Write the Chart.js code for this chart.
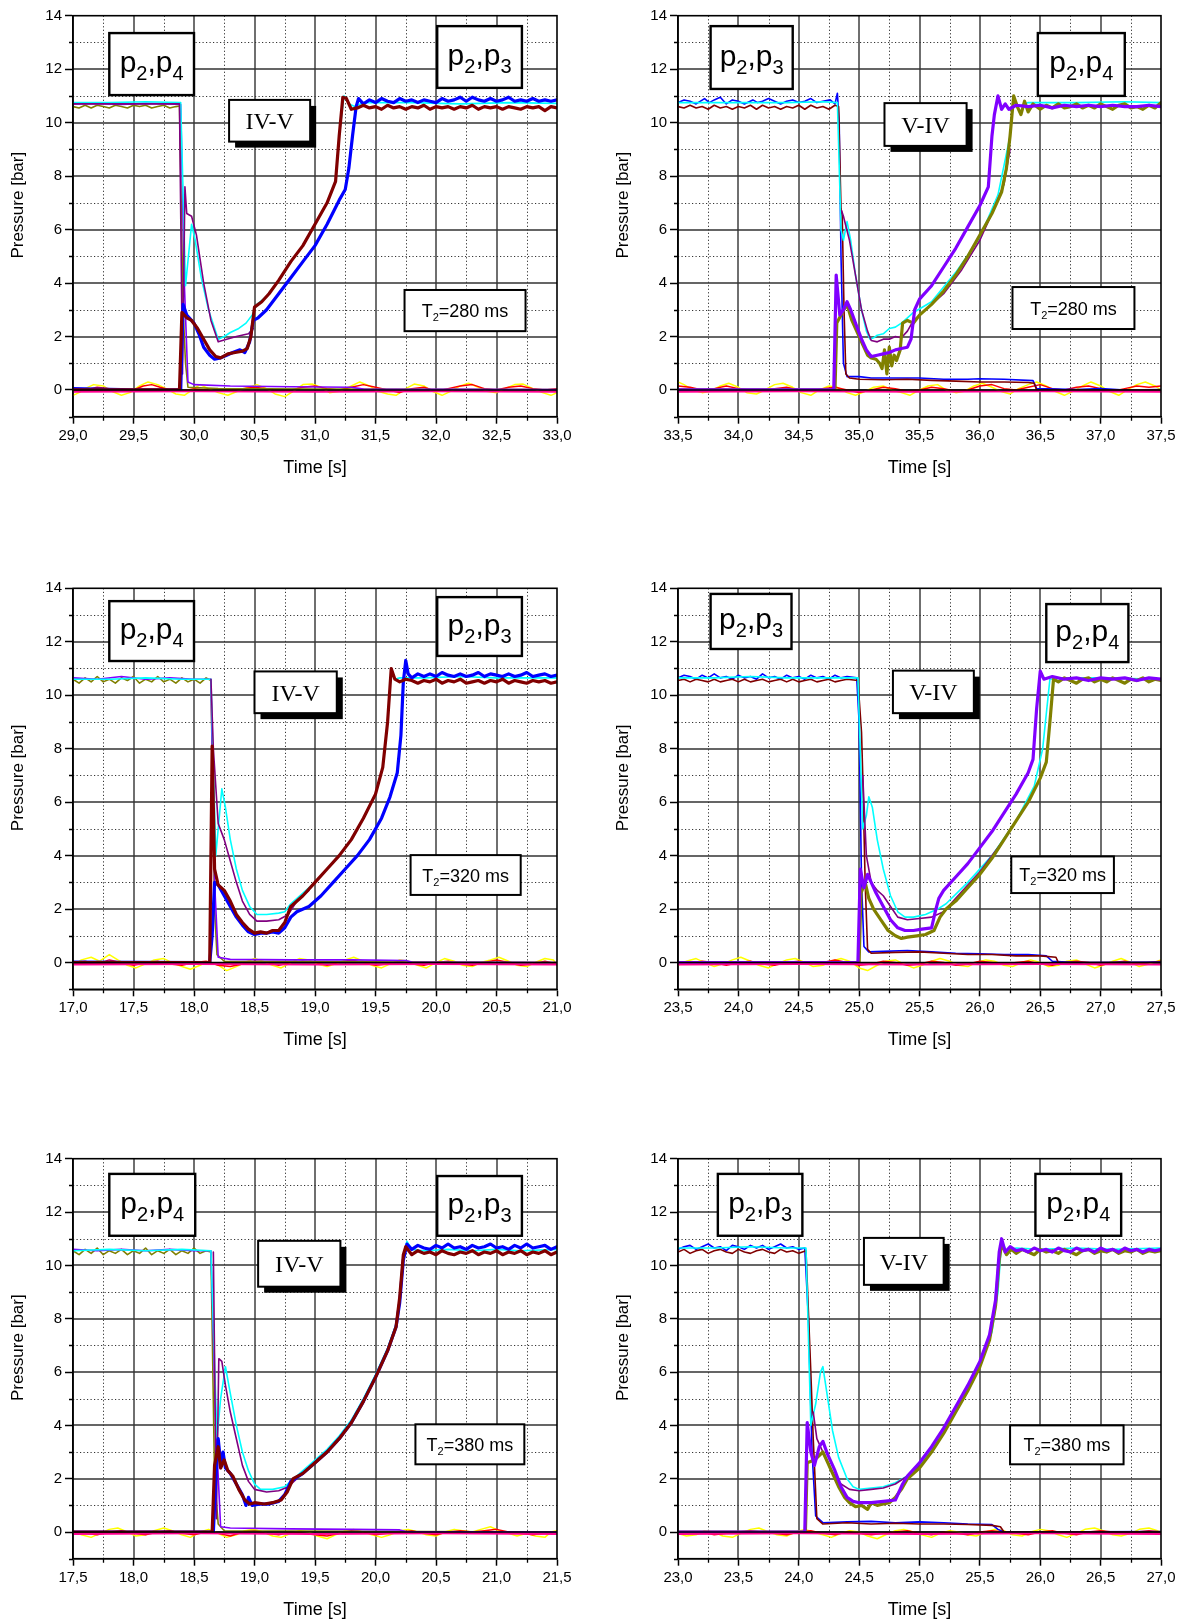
<!DOCTYPE html>
<html><head><meta charset="utf-8">
<script src="https://cdn.jsdelivr.net/npm/chart.js@4.4.0/dist/chart.umd.min.js"></script>
<style>
html,body{margin:0;padding:0;background:#fff;}
#wrap{position:relative;width:1182px;height:1620px;overflow:hidden;background:#fff;}
canvas{position:absolute;}
</style></head><body><div id="wrap"></div>
<script>
// ---------- shared axis data ----------
const Y_RANGE = [-1, 14];
const Y_TICKS = [0, 2, 4, 6, 8, 10, 12, 14];
const P1_XTICKS = [29.0, 29.5, 30.0, 30.5, 31.0, 31.5, 32.0, 32.5, 33.0];
const P2_XTICKS = [33.5, 34.0, 34.5, 35.0, 35.5, 36.0, 36.5, 37.0, 37.5];
const P3_XTICKS = [17.0, 17.5, 18.0, 18.5, 19.0, 19.5, 20.0, 20.5, 21.0];
const P4_XTICKS = [23.5, 24.0, 24.5, 25.0, 25.5, 26.0, 26.5, 27.0, 27.5];
const P5_XTICKS = [17.5, 18.0, 18.5, 19.0, 19.5, 20.0, 20.5, 21.0, 21.5];
const P6_XTICKS = [23.0, 23.5, 24.0, 24.5, 25.0, 25.5, 26.0, 26.5, 27.0];
const X_TITLE = 'Time [s]';
const Y_TITLE = 'Pressure [bar]';

// ---------- panel 1 (IV-V, T2=280 ms) : [x,y, x,y, ...] ----------
const P1_YELLOW = [29.0,-0.2, 29.05,-0.1, 29.1,0.05, 29.17,0.2, 29.25,0.15, 29.32,-0.05, 29.4,-0.2, 29.47,-0.1, 29.55,0.15, 29.62,0.3, 29.7,0.2, 29.77,0.05, 29.85,-0.15, 29.92,-0.2, 30.0,0.05, 30.05,0.2, 30.12,0.05, 30.2,-0.1, 30.28,-0.2, 30.36,-0.05, 30.45,0.1, 30.52,0.2, 30.6,0.05, 30.67,-0.15, 30.75,-0.25, 30.82,-0.05, 30.9,0.2, 30.98,0.22, 31.05,0.1, 31.12,-0.1, 31.2,-0.05, 31.3,0.15, 31.37,0.3, 31.45,0.15, 31.52,-0.05, 31.6,-0.15, 31.67,-0.2, 31.75,0.05, 31.82,0.22, 31.9,0.15, 31.97,-0.05, 32.05,-0.2, 32.12,-0.05, 32.2,0.15, 32.27,0.25, 32.35,0.1, 32.42,-0.05, 32.5,-0.1, 32.57,0.05, 32.65,0.2, 32.72,0.22, 32.8,0.05, 32.88,-0.1, 32.95,-0.2, 33.0,-0.1];
const P1_RED = [29.0,0.05, 29.1,0.0, 29.2,0.1, 29.3,0.05, 29.4,-0.05, 29.5,0.0, 29.58,0.15, 29.65,0.2, 29.72,0.1, 29.8,0.0, 29.9,-0.05, 30.0,0.05, 30.1,0.0, 30.2,-0.05, 30.3,0.0, 30.4,0.05, 30.5,0.1, 30.6,0.05, 30.7,-0.05, 30.8,0.0, 30.9,0.1, 31.0,0.15, 31.1,0.05, 31.2,0.0, 31.3,0.1, 31.4,0.2, 31.5,0.1, 31.6,0.0, 31.7,-0.1, 31.8,0.05, 31.9,0.1, 32.0,-0.05, 32.1,0.05, 32.2,0.15, 32.3,0.2, 32.4,0.05, 32.5,0.0, 32.6,0.1, 32.7,0.15, 32.8,0.05, 32.9,0.0, 33.0,0.05];
const P1_OLIVE = [29.0,10.6, 29.05,10.55, 29.1,10.65, 29.15,10.55, 29.2,10.65, 29.25,10.6, 29.3,10.55, 29.35,10.65, 29.4,10.6, 29.45,10.55, 29.5,10.65, 29.55,10.6, 29.6,10.65, 29.65,10.55, 29.7,10.6, 29.75,10.65, 29.8,10.55, 29.85,10.6, 29.88,10.62, 29.91,3.0, 29.93,1.0, 29.95,0.1, 30.2,0.05, 31.0,0.03, 33.0,0.02];
const P1_VIOLET = [29.0,10.7, 29.2,10.72, 29.4,10.68, 29.6,10.72, 29.8,10.7, 29.89,10.68, 29.92,4.0, 29.95,0.3, 30.0,0.2, 30.3,0.15, 30.8,0.12, 31.3,0.1, 31.4,0.03, 33.0,0.02];
const P1_CYAN = [29.0,10.75, 29.3,10.75, 29.6,10.78, 29.89,10.75, 29.93,3.9, 29.98,6.2, 30.01,5.6, 30.06,4.2, 30.12,3.0, 30.2,1.9, 30.25,2.0, 30.3,2.15, 30.37,2.3, 30.43,2.5, 30.48,2.8, 30.52,3.2, 30.6,3.5, 30.7,4.1, 30.8,4.8, 30.9,5.4, 31.0,6.2, 31.1,7.0, 31.17,7.8, 31.2,9.5, 31.24,11.0, 31.28,10.7, 31.33,10.6, 31.4,10.75, 31.8,10.75, 32.2,10.7, 32.6,10.75, 33.0,10.72];
const P1_PURPLE = [29.0,10.7, 29.4,10.7, 29.88,10.7, 29.905,0.6, 29.925,7.6, 29.94,6.6, 29.98,6.5, 30.02,5.8, 30.08,4.0, 30.14,2.6, 30.2,1.8, 30.27,1.9, 30.35,2.0, 30.45,2.1, 30.49,2.3];
const P1_BLUE = [29.0,0.05, 29.5,0.0, 29.89,0.0, 29.91,3.2, 29.94,2.8, 30.0,2.5, 30.04,2.1, 30.08,1.6, 30.13,1.3, 30.17,1.15, 30.22,1.2, 30.27,1.3, 30.32,1.4, 30.38,1.5, 30.42,1.4, 30.46,1.8, 30.49,2.6, 30.53,2.7, 30.6,3.0, 30.7,3.6, 30.8,4.2, 30.9,4.8, 31.0,5.4, 31.1,6.2, 31.2,7.1, 31.25,7.5, 31.28,8.3, 31.31,9.5, 31.34,10.6, 31.36,10.9, 31.4,10.7, 31.45,10.85, 31.5,10.75, 31.55,10.9, 31.6,10.8, 31.65,10.75, 31.7,10.9, 31.75,10.8, 31.8,10.85, 31.85,10.75, 31.9,10.85, 31.95,10.8, 32.0,10.75, 32.05,10.9, 32.1,10.8, 32.15,10.85, 32.2,10.95, 32.25,10.8, 32.3,10.95, 32.35,10.85, 32.4,10.8, 32.45,10.9, 32.5,10.8, 32.55,10.85, 32.6,10.95, 32.65,10.8, 32.7,10.85, 32.75,10.8, 32.8,10.9, 32.85,10.8, 32.9,10.85, 32.95,10.8, 33.0,10.85];
const P1_MAROON = [29.0,0.0, 29.88,0.0, 29.9,2.9, 29.94,2.7, 29.98,2.6, 30.03,2.3, 30.08,1.9, 30.13,1.5, 30.18,1.25, 30.22,1.2, 30.28,1.35, 30.34,1.4, 30.4,1.45, 30.44,1.55, 30.47,2.0, 30.5,3.1, 30.56,3.3, 30.62,3.6, 30.7,4.1, 30.8,4.8, 30.9,5.4, 31.0,6.2, 31.1,7.0, 31.17,7.8, 31.2,9.5, 31.23,10.95, 31.26,10.9, 31.3,10.5, 31.35,10.55, 31.4,10.65, 31.45,10.55, 31.5,10.6, 31.55,10.5, 31.6,10.65, 31.65,10.55, 31.7,10.6, 31.75,10.5, 31.8,10.6, 31.85,10.55, 31.9,10.65, 31.95,10.5, 32.0,10.6, 32.05,10.55, 32.1,10.6, 32.15,10.5, 32.2,10.6, 32.25,10.55, 32.3,10.65, 32.35,10.5, 32.4,10.6, 32.45,10.55, 32.5,10.6, 32.55,10.5, 32.6,10.6, 32.65,10.55, 32.7,10.5, 32.75,10.6, 32.8,10.55, 32.85,10.6, 32.9,10.45, 32.95,10.6, 33.0,10.55];
const P1_MAGENTA = [29.0,-0.07, 30.0,-0.05, 31.0,-0.07, 32.0,-0.05, 33.0,-0.07];
const P1_BLACK = [29.0,0.0, 33.0,0.0];

// ---------- panel 2 (V-IV, T2=280 ms) ----------
const P2_YELLOW = [33.5,0.3, 33.55,0.2, 33.62,0.0, 33.7,-0.1, 33.77,-0.05, 33.85,0.15, 33.92,0.25, 34.0,0.1, 34.07,-0.1, 34.15,-0.15, 34.22,0.0, 34.3,0.2, 34.37,0.25, 34.45,0.1, 34.52,-0.1, 34.6,-0.2, 34.67,0.0, 34.75,0.15, 34.82,0.1, 34.9,-0.1, 34.97,-0.2, 35.05,-0.05, 35.12,0.1, 35.2,0.15, 35.27,0.0, 35.35,-0.1, 35.42,-0.2, 35.5,0.0, 35.57,0.15, 35.65,0.2, 35.72,0.0, 35.8,-0.1, 35.87,-0.05, 35.95,0.15, 36.02,0.25, 36.1,0.1, 36.17,-0.05, 36.25,-0.15, 36.32,0.05, 36.4,0.2, 36.47,0.3, 36.55,0.15, 36.62,-0.05, 36.7,-0.2, 36.77,-0.05, 36.85,0.15, 36.92,0.3, 37.0,0.15, 37.07,-0.05, 37.15,-0.2, 37.22,0.0, 37.3,0.2, 37.37,0.3, 37.45,0.15, 37.5,0.0];
const P2_RED = [33.5,0.15, 33.6,0.1, 33.7,0.0, 33.8,0.05, 33.9,0.15, 34.0,0.05, 34.1,0.0, 34.2,-0.05, 34.3,0.05, 34.4,0.1, 34.5,0.0, 34.6,-0.05, 34.7,0.05, 34.8,0.1, 34.9,0.0, 35.0,-0.1, 35.1,0.0, 35.2,0.1, 35.3,0.05, 35.4,-0.05, 35.5,0.0, 35.6,0.1, 35.7,0.05, 35.8,-0.05, 35.9,0.0, 36.0,0.15, 36.1,0.2, 36.2,0.05, 36.3,0.0, 36.4,0.1, 36.5,0.2, 36.6,0.05, 36.7,0.0, 36.8,0.1, 36.9,0.15, 37.0,0.05, 37.1,-0.05, 37.2,0.05, 37.3,0.15, 37.4,0.1, 37.5,0.15];
const P2_BLUE = [33.5,10.75, 33.55,10.85, 33.6,10.8, 33.65,10.7, 33.72,10.9, 33.76,10.75, 33.8,10.85, 33.85,10.95, 33.9,10.7, 33.95,10.85, 34.0,10.8, 34.05,10.7, 34.12,10.85, 34.16,10.75, 34.2,10.8, 34.25,10.9, 34.3,10.8, 34.35,10.7, 34.4,10.8, 34.45,10.85, 34.5,10.75, 34.55,10.8, 34.6,10.9, 34.65,10.75, 34.7,10.8, 34.76,10.85, 34.8,10.7, 34.82,11.1, 34.835,10.0, 34.85,5.0, 34.87,1.0, 34.9,0.5, 35.0,0.5, 35.1,0.45, 35.3,0.45, 35.5,0.45, 35.7,0.4, 35.9,0.4, 36.0,0.42, 36.2,0.4, 36.44,0.35, 36.47,0.05, 36.8,0.02, 37.0,0.05, 37.2,0.0, 37.5,0.02];
const P2_MAROON = [33.5,10.6, 33.55,10.55, 33.6,10.65, 33.65,10.55, 33.7,10.6, 33.75,10.5, 33.8,10.65, 33.85,10.55, 33.9,10.6, 33.95,10.5, 34.0,10.6, 34.05,10.55, 34.1,10.65, 34.15,10.5, 34.2,10.65, 34.25,10.55, 34.3,10.6, 34.35,10.5, 34.4,10.6, 34.45,10.55, 34.5,10.65, 34.55,10.5, 34.6,10.65, 34.65,10.55, 34.7,10.6, 34.75,10.5, 34.8,10.65, 34.83,10.6, 34.85,6.8, 34.86,6.5, 34.875,3.0, 34.89,0.6, 34.92,0.45, 35.0,0.4, 35.2,0.38, 35.4,0.4, 35.6,0.36, 35.8,0.33, 36.0,0.3, 36.2,0.3, 36.4,0.28, 36.45,0.25, 36.47,0.0, 37.5,0.0];
const P2_CYAN = [33.5,10.75, 33.8,10.75, 34.1,10.75, 34.4,10.75, 34.7,10.78, 34.82,10.75, 34.85,6.0, 34.87,5.6, 34.9,6.3, 34.93,5.6, 34.97,4.3, 35.02,3.0, 35.06,2.2, 35.09,1.9, 35.12,1.95, 35.15,2.05, 35.2,2.1, 35.25,2.3, 35.3,2.35, 35.35,2.5, 35.4,2.7, 35.45,2.9, 35.6,3.3, 35.8,4.4, 36.0,5.7, 36.15,7.3, 36.25,9.5, 36.28,10.9, 36.32,10.6, 36.4,10.75, 36.8,10.75, 37.2,10.78, 37.5,10.75];
const P2_PURPLE = [34.855,6.7, 34.87,6.5, 34.92,5.6, 34.97,4.3, 35.02,3.0, 35.07,2.2, 35.1,1.85, 35.15,1.8, 35.2,1.9, 35.25,1.9, 35.3,2.0, 35.35,1.95, 35.4,2.2, 35.45,2.6, 35.55,3.0, 35.7,3.6, 35.85,4.5, 36.0,5.6, 36.1,6.6, 36.2,7.7, 36.25,9.0];
const P2_OLIVE = [33.5,0.0, 34.8,0.0, 34.815,2.5, 34.86,2.9, 34.9,3.2, 34.94,2.6, 34.98,2.2, 35.03,1.7, 35.07,1.3, 35.1,1.2, 35.14,1.15, 35.17,1.0, 35.19,0.8, 35.21,1.5, 35.23,0.6, 35.25,1.6, 35.27,0.9, 35.29,1.3, 35.31,1.1, 35.34,1.5, 35.36,2.5, 35.4,2.6, 35.45,2.5, 35.5,2.8, 35.6,3.2, 35.7,3.7, 35.8,4.3, 35.9,5.0, 36.0,5.8, 36.1,6.6, 36.18,7.4, 36.22,8.3, 36.25,9.5, 36.28,11.0, 36.31,10.6, 36.34,10.3, 36.37,10.8, 36.4,10.4, 36.44,10.7, 36.5,10.5, 36.55,10.65, 36.6,10.55, 36.65,10.7, 36.7,10.55, 36.75,10.6, 36.8,10.7, 36.85,10.55, 36.9,10.65, 36.95,10.55, 37.0,10.7, 37.05,10.6, 37.1,10.5, 37.15,10.65, 37.2,10.7, 37.25,10.55, 37.3,10.6, 37.35,10.5, 37.4,10.65, 37.45,10.55, 37.5,10.75];
const P2_VIOLET = [33.5,0.0, 34.79,0.0, 34.81,4.3, 34.84,2.8, 34.87,3.0, 34.9,3.3, 34.93,3.0, 34.97,2.5, 35.02,1.9, 35.06,1.5, 35.1,1.25, 35.15,1.3, 35.2,1.35, 35.25,1.4, 35.3,1.5, 35.35,1.55, 35.4,1.6, 35.43,1.9, 35.46,3.0, 35.5,3.4, 35.6,3.9, 35.7,4.6, 35.8,5.3, 35.9,6.1, 36.0,6.9, 36.07,7.6, 36.1,9.5, 36.12,10.3, 36.15,11.0, 36.18,10.5, 36.21,10.7, 36.24,10.5, 36.3,10.65, 36.4,10.6, 36.5,10.65, 36.6,10.55, 36.7,10.65, 36.8,10.6, 36.9,10.65, 37.0,10.6, 37.1,10.65, 37.2,10.6, 37.3,10.6, 37.4,10.65, 37.5,10.6];
const P2_MAGENTA = [33.5,-0.07, 34.5,-0.05, 35.5,-0.07, 36.5,-0.05, 37.5,-0.07];
const P2_BLACK = [33.5,0.0, 37.5,0.0];

// ---------- panel 3 (IV-V, T2=320 ms) ----------
const P3_YELLOW = [17.0,-0.1, 17.07,0.1, 17.15,0.2, 17.22,0.05, 17.3,0.3, 17.37,0.1, 17.45,-0.1, 17.52,-0.2, 17.6,-0.05, 17.67,0.1, 17.75,0.15, 17.82,0.0, 17.9,-0.15, 17.97,-0.25, 18.05,-0.1, 18.12,0.05, 18.2,-0.1, 18.27,-0.3, 18.35,-0.15, 18.42,0.0, 18.5,0.15, 18.57,0.05, 18.65,-0.1, 18.72,-0.2, 18.8,0.0, 18.87,0.15, 18.95,0.1, 19.02,-0.05, 19.1,-0.15, 19.17,-0.05, 19.25,0.1, 19.32,0.2, 19.4,0.05, 19.47,-0.1, 19.55,-0.2, 19.62,-0.05, 19.7,0.1, 19.77,0.05, 19.85,-0.1, 19.92,-0.2, 20.0,0.0, 20.07,0.15, 20.15,0.05, 20.22,-0.1, 20.3,-0.15, 20.37,0.0, 20.45,0.1, 20.52,0.2, 20.6,0.05, 20.67,-0.1, 20.75,-0.15, 20.82,0.0, 20.9,0.15, 20.97,0.1, 21.0,-0.1];
const P3_RED = [17.0,0.0, 17.1,0.05, 17.2,-0.05, 17.3,0.1, 17.4,0.0, 17.5,-0.1, 17.6,0.0, 17.7,0.05, 17.8,-0.05, 17.9,-0.1, 18.0,0.0, 18.1,0.05, 18.2,-0.1, 18.3,-0.15, 18.4,-0.05, 18.5,0.05, 18.6,0.0, 18.7,-0.1, 18.8,0.0, 18.9,0.05, 19.0,0.0, 19.1,-0.1, 19.2,0.0, 19.3,0.1, 19.4,0.0, 19.5,-0.1, 19.6,-0.05, 19.7,0.05, 19.8,-0.05, 19.9,-0.1, 20.0,0.0, 20.1,0.05, 20.2,-0.05, 20.3,-0.1, 20.4,0.0, 20.5,0.1, 20.6,0.0, 20.7,-0.1, 20.8,-0.05, 20.9,0.05, 21.0,-0.05];
const P3_OLIVE = [17.0,10.6, 17.05,10.45, 17.1,10.65, 17.15,10.5, 17.2,10.7, 17.25,10.5, 17.3,10.6, 17.35,10.45, 17.4,10.65, 17.45,10.55, 17.5,10.7, 17.55,10.45, 17.6,10.6, 17.65,10.5, 17.7,10.7, 17.75,10.5, 17.8,10.6, 17.85,10.45, 17.9,10.65, 17.95,10.5, 18.0,10.6, 18.05,10.45, 18.1,10.65, 18.14,10.55, 18.17,2.0, 18.19,0.3, 18.25,0.05, 21.0,0.0];
const P3_VIOLET = [17.0,10.65, 17.2,10.6, 17.4,10.7, 17.6,10.6, 17.8,10.65, 18.0,10.6, 18.14,10.6, 18.17,3.0, 18.2,0.2, 18.3,0.12, 18.8,0.1, 19.3,0.1, 19.75,0.08, 19.8,0.02, 21.0,0.0];
const P3_CYAN = [17.0,10.6, 17.3,10.6, 17.6,10.65, 17.9,10.6, 18.14,10.6, 18.18,4.0, 18.21,5.5, 18.23,6.5, 18.26,5.8, 18.3,4.6, 18.35,3.5, 18.4,2.7, 18.46,2.1, 18.52,1.8, 18.6,1.8, 18.7,1.85, 18.75,1.9, 18.8,2.2, 18.9,2.6, 19.0,3.0, 19.1,3.5, 19.2,4.0, 19.3,4.6, 19.4,5.4, 19.5,6.3, 19.56,7.3, 19.6,9.0, 19.63,10.9, 19.66,10.6, 19.7,10.65, 19.9,10.65, 20.2,10.7, 20.5,10.65, 20.8,10.65, 21.0,10.65];
const P3_PURPLE = [18.14,10.6, 18.16,8.0, 18.2,5.2, 18.25,4.6, 18.3,3.8, 18.35,3.0, 18.4,2.3, 18.46,1.8, 18.52,1.55, 18.6,1.55, 18.7,1.6, 18.78,1.8, 18.85,2.3, 18.95,2.7];
const P3_BLUE = [17.0,0.02, 18.13,0.0, 18.15,1.0, 18.17,3.0, 18.2,2.9, 18.25,2.5, 18.3,2.1, 18.35,1.7, 18.4,1.4, 18.45,1.15, 18.5,1.05, 18.55,1.1, 18.6,1.1, 18.65,1.15, 18.7,1.1, 18.75,1.3, 18.8,1.7, 18.85,1.9, 18.95,2.1, 19.05,2.5, 19.15,3.0, 19.25,3.5, 19.35,4.0, 19.45,4.6, 19.55,5.4, 19.62,6.2, 19.68,7.1, 19.71,8.5, 19.73,10.5, 19.75,11.3, 19.77,10.8, 19.8,10.65, 19.85,10.8, 19.9,10.7, 19.95,10.8, 20.0,10.7, 20.05,10.85, 20.1,10.75, 20.15,10.7, 20.2,10.8, 20.25,10.7, 20.3,10.75, 20.35,10.85, 20.4,10.7, 20.45,10.8, 20.5,10.75, 20.55,10.7, 20.6,10.8, 20.65,10.7, 20.7,10.75, 20.75,10.85, 20.8,10.7, 20.85,10.75, 20.9,10.8, 20.95,10.7, 21.0,10.75];
const P3_MAROON = [17.0,0.0, 18.13,0.0, 18.15,8.1, 18.17,3.5, 18.2,2.9, 18.25,2.7, 18.3,2.3, 18.35,1.8, 18.4,1.5, 18.45,1.25, 18.5,1.1, 18.55,1.15, 18.6,1.1, 18.65,1.2, 18.7,1.2, 18.75,1.5, 18.8,2.1, 18.9,2.5, 19.0,3.0, 19.1,3.5, 19.2,4.0, 19.3,4.6, 19.4,5.4, 19.5,6.3, 19.56,7.3, 19.6,9.0, 19.63,11.0, 19.66,10.6, 19.7,10.5, 19.75,10.6, 19.8,10.55, 19.85,10.45, 19.9,10.55, 19.95,10.5, 20.0,10.6, 20.05,10.45, 20.1,10.55, 20.15,10.5, 20.2,10.6, 20.25,10.45, 20.3,10.5, 20.35,10.55, 20.4,10.45, 20.45,10.55, 20.5,10.5, 20.55,10.6, 20.6,10.45, 20.65,10.55, 20.7,10.5, 20.75,10.45, 20.8,10.55, 20.85,10.5, 20.9,10.55, 20.95,10.45, 21.0,10.5];
const P3_MAGENTA = [17.0,-0.07, 18.0,-0.05, 19.0,-0.07, 20.0,-0.05, 21.0,-0.07];
const P3_BLACK = [17.0,0.0, 21.0,0.0];

// ---------- panel 4 (V-IV, T2=320 ms) ----------
const P4_YELLOW = [23.5,-0.1, 23.57,0.05, 23.65,0.15, 23.72,0.0, 23.8,-0.15, 23.87,-0.05, 23.95,0.1, 24.02,0.2, 24.1,0.05, 24.17,-0.1, 24.25,-0.2, 24.32,-0.05, 24.4,0.1, 24.47,0.15, 24.55,0.0, 24.62,-0.15, 24.7,-0.1, 24.77,0.05, 24.85,0.15, 24.92,0.05, 25.0,-0.2, 25.07,-0.3, 25.15,-0.1, 25.22,0.05, 25.3,0.1, 25.37,-0.05, 25.45,-0.2, 25.52,-0.1, 25.6,0.05, 25.67,0.15, 25.75,0.05, 25.82,-0.1, 25.9,-0.15, 25.97,0.0, 26.05,0.1, 26.12,0.05, 26.2,-0.1, 26.27,-0.15, 26.35,0.0, 26.42,0.1, 26.5,0.0, 26.57,-0.15, 26.65,-0.1, 26.72,0.05, 26.8,0.1, 26.87,-0.05, 26.95,-0.2, 27.02,-0.1, 27.1,0.05, 27.17,0.15, 27.25,0.0, 27.32,-0.15, 27.4,-0.05, 27.5,0.1];
const P4_RED = [23.5,0.0, 23.6,-0.05, 23.7,0.05, 23.8,0.0, 23.9,-0.1, 24.0,0.0, 24.1,0.05, 24.2,-0.05, 24.3,-0.1, 24.4,0.0, 24.5,0.05, 24.6,-0.05, 24.7,0.0, 24.8,0.1, 24.9,0.0, 25.0,-0.1, 25.1,-0.05, 25.2,0.05, 25.3,0.0, 25.4,-0.1, 25.5,-0.05, 25.6,0.05, 25.7,0.0, 25.8,-0.1, 25.9,-0.05, 26.0,0.05, 26.1,0.0, 26.2,-0.05, 26.3,0.0, 26.4,0.05, 26.5,-0.05, 26.6,-0.1, 26.7,0.0, 26.8,0.05, 26.9,0.0, 27.0,-0.1, 27.1,0.0, 27.2,0.05, 27.3,-0.05, 27.4,0.0, 27.5,0.05];
const P4_BLUE = [23.5,10.65, 23.55,10.75, 23.6,10.7, 23.65,10.6, 23.7,10.75, 23.75,10.65, 23.8,10.8, 23.85,10.65, 23.9,10.7, 23.95,10.6, 24.0,10.75, 24.05,10.65, 24.1,10.7, 24.15,10.6, 24.2,10.8, 24.25,10.65, 24.3,10.7, 24.35,10.6, 24.4,10.75, 24.45,10.65, 24.5,10.7, 24.55,10.6, 24.6,10.75, 24.65,10.65, 24.7,10.7, 24.75,10.6, 24.8,10.75, 24.85,10.65, 24.9,10.7, 24.98,10.65, 25.0,9.0, 25.02,3.0, 25.04,0.6, 25.08,0.4, 25.2,0.42, 25.4,0.45, 25.6,0.4, 25.8,0.35, 26.0,0.33, 26.2,0.3, 26.4,0.3, 26.55,0.25, 26.6,0.05, 26.8,0.0, 27.5,0.02];
const P4_MAROON = [23.5,10.55, 23.55,10.6, 23.6,10.5, 23.65,10.6, 23.7,10.55, 23.75,10.5, 23.8,10.6, 23.85,10.5, 23.9,10.55, 23.95,10.6, 24.0,10.5, 24.05,10.6, 24.1,10.5, 24.15,10.55, 24.2,10.6, 24.25,10.5, 24.3,10.55, 24.35,10.6, 24.4,10.5, 24.45,10.6, 24.5,10.5, 24.55,10.55, 24.6,10.6, 24.65,10.5, 24.7,10.55, 24.75,10.6, 24.8,10.5, 24.85,10.55, 24.9,10.6, 24.99,10.55, 25.02,8.6, 25.03,7.0, 25.05,3.0, 25.07,0.5, 25.1,0.35, 25.3,0.38, 25.5,0.4, 25.7,0.35, 25.9,0.3, 26.1,0.3, 26.3,0.25, 26.5,0.25, 26.63,0.2, 26.65,0.0, 27.5,0.0];
const P4_CYAN = [23.5,10.65, 23.8,10.65, 24.1,10.7, 24.4,10.65, 24.7,10.65, 24.99,10.65, 25.03,5.0, 25.06,5.5, 25.08,6.2, 25.11,5.8, 25.15,4.6, 25.2,3.5, 25.26,2.5, 25.32,1.9, 25.38,1.7, 25.45,1.7, 25.55,1.8, 25.65,2.0, 25.72,2.2, 25.9,3.0, 26.1,4.0, 26.3,5.3, 26.45,6.6, 26.52,8.0, 26.58,10.6, 26.7,10.65, 27.0,10.65, 27.5,10.6];
const P4_PURPLE = [25.03,7.0, 25.06,4.0, 25.1,3.0, 25.15,2.7, 25.2,2.5, 25.26,2.1, 25.32,1.7, 25.4,1.6, 25.5,1.65, 25.6,1.7, 25.7,1.9, 25.8,2.4, 26.0,3.4, 26.2,4.6, 26.4,6.0, 26.5,6.9];
const P4_OLIVE = [23.5,0.0, 25.0,0.0, 25.015,2.6, 25.05,3.0, 25.08,2.4, 25.12,2.0, 25.18,1.6, 25.24,1.2, 25.3,1.0, 25.35,0.9, 25.4,0.95, 25.48,1.0, 25.55,1.05, 25.62,1.2, 25.67,1.7, 25.72,2.0, 25.8,2.3, 25.9,2.8, 26.0,3.3, 26.1,3.9, 26.2,4.6, 26.3,5.3, 26.4,6.0, 26.5,6.9, 26.55,7.5, 26.58,9.0, 26.61,10.6, 26.65,10.5, 26.7,10.65, 26.75,10.55, 26.8,10.45, 26.85,10.6, 26.9,10.65, 26.95,10.5, 27.0,10.6, 27.05,10.5, 27.1,10.65, 27.15,10.55, 27.2,10.45, 27.25,10.6, 27.3,10.55, 27.35,10.65, 27.4,10.5, 27.45,10.6, 27.5,10.55];
const P4_VIOLET = [23.5,0.0, 24.99,0.0, 25.01,3.5, 25.04,2.8, 25.07,3.3, 25.1,3.0, 25.14,2.6, 25.2,2.1, 25.26,1.6, 25.32,1.3, 25.38,1.2, 25.45,1.2, 25.52,1.25, 25.6,1.3, 25.63,1.9, 25.66,2.4, 25.7,2.7, 25.8,3.2, 25.9,3.7, 26.0,4.3, 26.1,4.9, 26.2,5.6, 26.3,6.3, 26.4,7.1, 26.44,7.6, 26.47,9.5, 26.5,10.9, 26.53,10.6, 26.6,10.7, 26.7,10.6, 26.8,10.65, 26.9,10.55, 27.0,10.65, 27.1,10.6, 27.2,10.65, 27.3,10.55, 27.4,10.65, 27.5,10.6];
const P4_MAGENTA = [23.5,-0.07, 24.5,-0.05, 25.5,-0.07, 26.5,-0.05, 27.5,-0.07];
const P4_BLACK = [23.5,0.0, 27.5,0.0];

// ---------- panel 5 (IV-V, T2=380 ms) ----------
const P5_YELLOW = [17.5,0.05, 17.57,-0.1, 17.65,-0.2, 17.72,-0.05, 17.8,0.1, 17.87,0.15, 17.95,0.0, 18.02,-0.15, 18.1,-0.1, 18.17,0.05, 18.25,0.15, 18.32,0.05, 18.4,-0.1, 18.47,-0.2, 18.55,0.0, 18.62,0.1, 18.7,-0.05, 18.77,-0.2, 18.85,-0.1, 18.92,0.05, 19.0,0.1, 19.07,0.0, 19.15,-0.15, 19.22,-0.2, 19.3,-0.05, 19.37,0.05, 19.45,0.0, 19.52,-0.15, 19.6,-0.25, 19.67,-0.1, 19.75,0.05, 19.82,0.1, 19.9,0.0, 19.97,-0.1, 20.05,-0.2, 20.12,-0.1, 20.2,0.05, 20.27,0.1, 20.35,0.0, 20.42,-0.1, 20.5,-0.15, 20.57,0.0, 20.65,0.1, 20.72,0.05, 20.8,0.0, 20.87,0.1, 20.95,0.2, 21.02,0.05, 21.1,-0.05, 21.17,-0.15, 21.25,-0.05, 21.32,-0.15, 21.4,-0.2, 21.45,0.0, 21.5,0.05];
const P5_RED = [17.5,0.0, 17.6,-0.05, 17.7,-0.1, 17.8,0.0, 17.9,0.05, 18.0,-0.05, 18.1,-0.1, 18.2,0.0, 18.3,0.05, 18.4,-0.05, 18.5,-0.1, 18.6,0.0, 18.7,-0.05, 18.8,-0.15, 18.9,0.0, 19.0,0.05, 19.1,-0.05, 19.2,-0.1, 19.3,0.0, 19.4,-0.05, 19.5,-0.1, 19.6,-0.15, 19.7,-0.05, 19.8,0.05, 19.9,0.0, 20.0,-0.1, 20.1,-0.05, 20.2,0.0, 20.3,0.05, 20.4,-0.05, 20.5,-0.1, 20.6,0.0, 20.7,0.05, 20.8,0.0, 20.9,0.05, 21.0,0.1, 21.1,0.0, 21.2,-0.05, 21.3,-0.1, 21.4,-0.05, 21.5,0.0];
const P5_OLIVE = [17.5,10.55, 17.55,10.4, 17.6,10.6, 17.65,10.45, 17.7,10.65, 17.75,10.4, 17.8,10.55, 17.85,10.45, 17.9,10.6, 17.95,10.4, 18.0,10.55, 18.05,10.45, 18.1,10.65, 18.15,10.4, 18.2,10.55, 18.25,10.45, 18.3,10.6, 18.35,10.4, 18.4,10.55, 18.45,10.45, 18.5,10.65, 18.55,10.45, 18.6,10.55, 18.64,10.5, 18.67,2.0, 18.7,0.3, 18.75,0.05, 21.5,0.0];
const P5_VIOLET = [17.5,10.6, 17.7,10.55, 17.9,10.6, 18.1,10.55, 18.3,10.6, 18.5,10.55, 18.64,10.55, 18.68,4.0, 18.72,0.2, 18.8,0.15, 19.3,0.12, 19.8,0.1, 20.2,0.08, 20.25,0.02, 21.5,0.0];
const P5_CYAN = [17.5,10.55, 17.8,10.6, 18.1,10.55, 18.4,10.6, 18.64,10.55, 18.69,3.5, 18.72,5.0, 18.76,6.2, 18.8,5.2, 18.85,4.0, 18.9,3.0, 18.95,2.3, 19.0,1.8, 19.05,1.6, 19.15,1.6, 19.25,1.7, 19.3,1.9, 19.4,2.3, 19.5,2.7, 19.6,3.1, 19.7,3.6, 19.8,4.2, 19.9,5.0, 20.0,5.9, 20.1,6.9, 20.17,7.8, 20.2,8.8, 20.23,10.4, 20.26,10.9, 20.3,10.6, 20.4,10.55, 20.6,10.6, 20.8,10.55, 21.0,10.6, 21.2,10.55, 21.5,10.6];
const P5_PURPLE = [18.66,10.5, 18.685,0.5, 18.705,6.5, 18.73,6.4, 18.76,5.5, 18.8,4.5, 18.85,3.5, 18.9,2.5, 18.95,1.9, 19.0,1.6, 19.1,1.5, 19.2,1.55, 19.28,1.7, 19.35,2.0];
const P5_BLUE = [17.5,0.0, 18.66,0.0, 18.68,2.0, 18.7,3.5, 18.72,2.6, 18.74,3.0, 18.76,2.4, 18.8,2.2, 18.85,1.8, 18.9,1.4, 18.93,1.0, 18.95,1.3, 18.98,1.0, 19.05,1.05, 19.12,1.05, 19.2,1.15, 19.25,1.4, 19.3,1.9, 19.4,2.2, 19.5,2.6, 19.6,3.0, 19.7,3.5, 19.8,4.1, 19.9,4.9, 20.0,5.8, 20.1,6.8, 20.17,7.7, 20.2,8.6, 20.23,10.2, 20.26,10.8, 20.3,10.6, 20.35,10.75, 20.4,10.65, 20.45,10.6, 20.5,10.75, 20.55,10.65, 20.6,10.8, 20.65,10.65, 20.7,10.7, 20.75,10.6, 20.8,10.75, 20.85,10.65, 20.9,10.7, 20.95,10.8, 21.0,10.65, 21.05,10.7, 21.1,10.6, 21.15,10.75, 21.2,10.65, 21.25,10.8, 21.3,10.65, 21.35,10.7, 21.4,10.75, 21.45,10.6, 21.5,10.7];
const P5_MAROON = [17.5,0.0, 18.65,0.0, 18.67,2.5, 18.7,3.2, 18.72,2.4, 18.75,2.7, 18.78,2.3, 18.82,2.1, 18.87,1.6, 18.92,1.2, 18.96,1.05, 19.0,1.1, 19.08,1.05, 19.15,1.1, 19.22,1.2, 19.27,1.5, 19.32,2.0, 19.4,2.2, 19.5,2.6, 19.6,3.0, 19.7,3.5, 19.8,4.1, 19.9,4.9, 20.0,5.8, 20.1,6.8, 20.17,7.7, 20.2,8.8, 20.23,10.4, 20.25,10.7, 20.3,10.4, 20.35,10.55, 20.4,10.45, 20.45,10.5, 20.5,10.4, 20.55,10.55, 20.6,10.45, 20.65,10.4, 20.7,10.5, 20.75,10.45, 20.8,10.55, 20.85,10.4, 20.9,10.5, 20.95,10.45, 21.0,10.55, 21.05,10.4, 21.1,10.5, 21.15,10.45, 21.2,10.55, 21.25,10.4, 21.3,10.5, 21.35,10.45, 21.4,10.55, 21.45,10.4, 21.5,10.5];
const P5_MAGENTA = [17.5,-0.07, 18.5,-0.05, 19.5,-0.07, 20.5,-0.05, 21.5,-0.07];
const P5_BLACK = [17.5,0.0, 21.5,0.0];

// ---------- panel 6 (V-IV, T2=380 ms) ----------
const P6_YELLOW = [23.0,-0.05, 23.07,-0.15, 23.15,-0.1, 23.22,0.05, 23.3,0.0, 23.37,-0.15, 23.45,-0.2, 23.52,-0.05, 23.6,0.1, 23.67,0.15, 23.75,0.0, 23.82,-0.1, 23.9,-0.15, 23.97,0.0, 24.05,0.1, 24.12,0.0, 24.2,-0.1, 24.27,-0.2, 24.35,-0.05, 24.42,0.05, 24.5,0.0, 24.57,-0.15, 24.65,-0.25, 24.72,-0.1, 24.8,0.05, 24.87,0.1, 24.95,0.0, 25.02,-0.1, 25.1,-0.2, 25.17,-0.05, 25.25,0.05, 25.32,0.0, 25.4,-0.1, 25.47,-0.15, 25.55,0.0, 25.62,0.1, 25.7,0.05, 25.77,-0.1, 25.85,-0.15, 25.92,0.0, 26.0,0.1, 26.07,0.05, 26.15,-0.1, 26.22,-0.2, 26.3,-0.05, 26.37,0.1, 26.45,0.15, 26.52,0.05, 26.6,-0.1, 26.67,-0.15, 26.75,-0.05, 26.82,0.1, 26.9,0.15, 26.97,0.05, 27.0,0.0];
const P6_RED = [23.0,0.0, 23.1,-0.05, 23.2,0.0, 23.3,-0.1, 23.4,-0.05, 23.5,0.0, 23.6,0.05, 23.7,0.0, 23.8,-0.05, 23.9,-0.1, 24.0,0.0, 24.1,0.05, 24.2,-0.05, 24.3,-0.1, 24.4,0.0, 24.5,-0.05, 24.6,-0.1, 24.7,-0.05, 24.8,0.0, 24.9,0.05, 25.0,-0.05, 25.1,-0.1, 25.2,0.0, 25.3,-0.05, 25.4,-0.1, 25.5,0.0, 25.6,0.05, 25.7,0.0, 25.8,-0.05, 25.9,-0.1, 26.0,0.0, 26.1,0.05, 26.2,-0.05, 26.3,-0.1, 26.4,0.0, 26.5,0.05, 26.6,0.0, 26.7,-0.05, 26.8,0.0, 26.9,0.05, 27.0,0.0];
const P6_BLUE = [23.0,10.6, 23.05,10.7, 23.1,10.75, 23.15,10.6, 23.2,10.7, 23.25,10.8, 23.3,10.65, 23.35,10.7, 23.4,10.55, 23.45,10.75, 23.5,10.7, 23.55,10.6, 23.6,10.75, 23.65,10.65, 23.7,10.75, 23.75,10.6, 23.8,10.7, 23.85,10.8, 23.9,10.65, 23.95,10.7, 24.0,10.6, 24.05,10.65, 24.08,8.0, 24.11,3.0, 24.14,0.6, 24.2,0.35, 24.4,0.38, 24.6,0.4, 24.8,0.35, 25.0,0.38, 25.2,0.35, 25.4,0.3, 25.6,0.28, 25.65,0.1, 25.7,0.0, 27.0,0.02];
const P6_MAROON = [23.0,10.5, 23.05,10.6, 23.1,10.45, 23.15,10.55, 23.2,10.6, 23.25,10.45, 23.3,10.55, 23.35,10.6, 23.4,10.5, 23.45,10.45, 23.5,10.6, 23.55,10.5, 23.6,10.45, 23.65,10.55, 23.7,10.6, 23.75,10.5, 23.8,10.45, 23.85,10.6, 23.9,10.5, 23.95,10.55, 24.0,10.45, 24.06,10.55, 24.1,6.0, 24.12,3.5, 24.15,0.5, 24.2,0.3, 24.4,0.35, 24.6,0.3, 24.8,0.33, 25.0,0.3, 25.2,0.3, 25.4,0.28, 25.6,0.25, 25.67,0.2, 25.7,0.0, 27.0,0.0];
const P6_CYAN = [23.0,10.65, 23.3,10.65, 23.6,10.7, 23.9,10.65, 24.06,10.65, 24.1,4.0, 24.14,4.8, 24.18,6.0, 24.2,6.2, 24.23,5.3, 24.28,3.8, 24.33,2.8, 24.4,2.0, 24.45,1.7, 24.5,1.6, 24.6,1.65, 24.7,1.7, 24.8,1.85, 24.9,2.1, 25.0,2.5, 25.1,3.1, 25.2,3.8, 25.3,4.6, 25.4,5.4, 25.5,6.3, 25.6,7.5, 25.65,9.0, 25.68,10.9, 25.72,10.55, 25.8,10.65, 26.0,10.6, 26.3,10.65, 26.6,10.6, 27.0,10.65];
const P6_PURPLE = [24.12,4.5, 24.15,3.5, 24.2,3.0, 24.25,2.5, 24.3,2.1, 24.35,1.8, 24.42,1.6, 24.5,1.55, 24.6,1.6, 24.7,1.65, 24.8,1.8, 24.9,2.1, 25.0,2.5];
const P6_OLIVE = [23.0,0.0, 24.055,0.0, 24.07,2.6, 24.13,2.7, 24.2,3.0, 24.24,2.6, 24.28,2.2, 24.33,1.7, 24.38,1.3, 24.42,1.1, 24.47,0.95, 24.52,1.0, 24.57,0.85, 24.6,1.1, 24.65,1.0, 24.7,1.05, 24.75,1.1, 24.8,1.3, 24.85,1.6, 24.9,2.0, 25.0,2.4, 25.1,3.0, 25.2,3.7, 25.3,4.5, 25.4,5.3, 25.5,6.2, 25.58,7.2, 25.63,8.5, 25.66,10.2, 25.68,10.8, 25.72,10.4, 25.76,10.6, 25.8,10.45, 25.85,10.6, 25.9,10.5, 25.95,10.4, 26.0,10.6, 26.05,10.5, 26.1,10.55, 26.15,10.45, 26.2,10.6, 26.25,10.5, 26.3,10.4, 26.35,10.55, 26.4,10.6, 26.45,10.45, 26.5,10.55, 26.55,10.5, 26.6,10.6, 26.65,10.45, 26.7,10.55, 26.75,10.5, 26.8,10.6, 26.85,10.45, 26.9,10.55, 26.95,10.5, 27.0,10.55];
const P6_VIOLET = [23.0,0.0, 24.05,0.0, 24.07,4.1, 24.1,3.0, 24.13,2.5, 24.17,3.2, 24.2,3.4, 24.24,2.9, 24.3,2.3, 24.35,1.7, 24.4,1.3, 24.45,1.15, 24.5,1.1, 24.6,1.1, 24.7,1.15, 24.8,1.2, 24.83,1.5, 24.86,1.8, 24.9,2.1, 25.0,2.6, 25.1,3.2, 25.2,3.9, 25.3,4.7, 25.4,5.5, 25.5,6.4, 25.58,7.4, 25.63,8.7, 25.66,10.5, 25.68,11.0, 25.71,10.5, 25.75,10.7, 25.8,10.55, 25.85,10.6, 25.9,10.5, 25.95,10.65, 26.0,10.55, 26.05,10.6, 26.1,10.5, 26.15,10.65, 26.2,10.55, 26.25,10.5, 26.3,10.65, 26.35,10.55, 26.4,10.6, 26.45,10.5, 26.5,10.65, 26.55,10.55, 26.6,10.6, 26.65,10.5, 26.7,10.65, 26.75,10.55, 26.8,10.6, 26.85,10.5, 26.9,10.6, 26.95,10.55, 27.0,10.6];
const P6_MAGENTA = [23.0,-0.07, 24.0,-0.05, 25.0,-0.07, 26.0,-0.05, 27.0,-0.07];
const P6_BLACK = [23.0,0.0, 27.0,0.0];

// ---------- styles ----------
const C = {yellow:'#ffff00', red:'#ff0000', olive:'#808000', violet:'#8000ff', cyan:'#00ffff',
  purple:'#800080', blue:'#0000ff', maroon:'#800000', magenta:'#ff0090', black:'#000000'};
const THICK = 3.2, THIN = 1.6, NOISE = 1.5;

function pParts(a, b) { return [['p',0],[a,1],[',',0],['p',0],[b,1]]; }
function tParts(v) { return [['T',0],['2',1],['=' + v + ' ms',0]]; }

const PANELS = [
  { row:0, col:0, xTicks:P1_XTICKS, series:[
      ['yellow',P1_YELLOW,NOISE],['red',P1_RED,NOISE],['olive',P1_OLIVE,THIN],['violet',P1_VIOLET,THIN],
      ['cyan',P1_CYAN,THIN],['purple',P1_PURPLE,THIN],['blue',P1_BLUE,THICK],['maroon',P1_MAROON,THICK],
      ['magenta',P1_MAGENTA,2],['black',P1_BLACK,1.5]],
    boxes:[
      {kind:'p', parts:pParts('2','4'), x:[29.30,30.0], y:[13.35,11.03]},
      {kind:'p', parts:pParts('2','3'), x:[32.01,32.71], y:[13.61,11.30]},
      {kind:'r', text:'IV-V', x:[30.29,30.96], y:[10.85,9.29]},
      {kind:'t', parts:tParts('280'), x:[31.74,32.74], y:[3.74,2.20]}]},
  { row:0, col:1, xTicks:P2_XTICKS, series:[
      ['yellow',P2_YELLOW,NOISE],['red',P2_RED,NOISE],['blue',P2_BLUE,THIN],['maroon',P2_MAROON,THIN],
      ['cyan',P2_CYAN,THIN],['purple',P2_PURPLE,THIN],['olive',P2_OLIVE,THICK],['violet',P2_VIOLET,THICK],
      ['magenta',P2_MAGENTA,2],['black',P2_BLACK,1.5]],
    boxes:[
      {kind:'p', parts:pParts('2','3'), x:[33.77,34.45], y:[13.61,11.26]},
      {kind:'p', parts:pParts('2','4'), x:[36.48,37.20], y:[13.35,11.0]},
      {kind:'r', text:'V-IV', x:[35.21,35.89], y:[10.73,9.13]},
      {kind:'t', parts:tParts('280'), x:[36.27,37.28], y:[3.85,2.28]}]},
  { row:1, col:0, xTicks:P3_XTICKS, series:[
      ['yellow',P3_YELLOW,NOISE],['red',P3_RED,NOISE],['olive',P3_OLIVE,THIN],['violet',P3_VIOLET,THIN],
      ['cyan',P3_CYAN,THIN],['purple',P3_PURPLE,THIN],['blue',P3_BLUE,THICK],['maroon',P3_MAROON,THICK],
      ['magenta',P3_MAGENTA,2],['black',P3_BLACK,1.5]],
    boxes:[
      {kind:'p', parts:pParts('2','4'), x:[17.30,18.0], y:[13.52,11.28]},
      {kind:'p', parts:pParts('2','3'), x:[20.01,20.71], y:[13.67,11.47]},
      {kind:'r', text:'IV-V', x:[18.50,19.18], y:[10.89,9.33]},
      {kind:'t', parts:tParts('320'), x:[19.79,20.70], y:[4.02,2.53]}]},
  { row:1, col:1, xTicks:P4_XTICKS, series:[
      ['yellow',P4_YELLOW,NOISE],['red',P4_RED,NOISE],['blue',P4_BLUE,THIN],['maroon',P4_MAROON,THIN],
      ['cyan',P4_CYAN,THIN],['purple',P4_PURPLE,THIN],['olive',P4_OLIVE,THICK],['violet',P4_VIOLET,THICK],
      ['magenta',P4_MAGENTA,2],['black',P4_BLACK,1.5]],
    boxes:[
      {kind:'p', parts:pParts('2','3'), x:[23.77,24.44], y:[13.79,11.73]},
      {kind:'p', parts:pParts('2','4'), x:[26.55,27.23], y:[13.41,11.24]},
      {kind:'r', text:'V-IV', x:[25.28,25.95], y:[10.92,9.33]},
      {kind:'t', parts:tParts('320'), x:[26.26,27.11], y:[3.97,2.60]}]},
  { row:2, col:0, xTicks:P5_XTICKS, series:[
      ['yellow',P5_YELLOW,NOISE],['red',P5_RED,NOISE],['olive',P5_OLIVE,THIN],['violet',P5_VIOLET,THIN],
      ['cyan',P5_CYAN,THIN],['purple',P5_PURPLE,THIN],['blue',P5_BLUE,THICK],['maroon',P5_MAROON,THICK],
      ['magenta',P5_MAGENTA,2],['black',P5_BLACK,1.5]],
    boxes:[
      {kind:'p', parts:pParts('2','4'), x:[17.80,18.51], y:[13.43,11.11]},
      {kind:'p', parts:pParts('2','3'), x:[20.51,21.21], y:[13.35,11.11]},
      {kind:'r', text:'IV-V', x:[19.03,19.71], y:[10.92,9.20]},
      {kind:'t', parts:tParts('380'), x:[20.33,21.23], y:[4.04,2.54]}]},
  { row:2, col:1, xTicks:P6_XTICKS, series:[
      ['yellow',P6_YELLOW,NOISE],['red',P6_RED,NOISE],['blue',P6_BLUE,THIN],['maroon',P6_MAROON,THIN],
      ['cyan',P6_CYAN,THIN],['purple',P6_PURPLE,THIN],['olive',P6_OLIVE,THICK],['violet',P6_VIOLET,THICK],
      ['magenta',P6_MAGENTA,2],['black',P6_BLACK,1.5]],
    boxes:[
      {kind:'p', parts:pParts('2','3'), x:[23.33,24.03], y:[13.43,11.11]},
      {kind:'p', parts:pParts('2','4'), x:[25.96,26.67], y:[13.43,11.11]},
      {kind:'r', text:'V-IV', x:[24.54,25.20], y:[11.03,9.27]},
      {kind:'t', parts:tParts('380'), x:[25.75,26.69], y:[4.0,2.54]}]}
];

// ---------- layout ----------
const ROW_TOP = [0, 572, 1143], ROW_H = [572, 571, 477];
const PAD_TOP = [15.7, 16.3, 15.7], PAD_BOT = [115.3, 113.7, 21.3];
const COL_LEFT = [0, 591], COL_W = [591, 591], YAXIS_W = [73, 87], PAD_R = [34, 21];
const XAXIS_H = 40;
const SANS = '"Liberation Sans", Arial, sans-serif';
const SERIF = '"Liberation Serif", "Times New Roman", serif';

function xy(flat) { const o = []; for (let i = 0; i < flat.length; i += 2) o.push({x: flat[i], y: flat[i+1]}); return o; }
function mids(arr) { const o = []; for (let i = 0; i < arr.length - 1; i++) o.push((arr[i] + arr[i+1]) / 2); return o; }

const decoPlugin = {
  id: 'deco',
  beforeDatasetsDraw(chart) {
    const {ctx, chartArea: a, scales: {x, y}} = chart;
    const o = chart.options.plugins.deco;
    ctx.save();
    ctx.strokeStyle = '#333'; ctx.lineWidth = 1; ctx.setLineDash([1.2, 2.3]);
    ctx.beginPath();
    mids(o.xTicks).forEach(v => { const p = Math.round(x.getPixelForValue(v)) + 0.5; ctx.moveTo(p, a.top); ctx.lineTo(p, a.bottom); });
    mids(Y_TICKS).forEach(v => { const p = Math.round(y.getPixelForValue(v)) + 0.5; ctx.moveTo(a.left, p); ctx.lineTo(a.right, p); });
    ctx.stroke();
    ctx.setLineDash([]); ctx.strokeStyle = '#333'; ctx.lineWidth = 1.4;
    ctx.beginPath();
    o.xTicks.slice(1, -1).forEach(v => { const p = Math.round(x.getPixelForValue(v)); ctx.moveTo(p, a.top); ctx.lineTo(p, a.bottom); });
    Y_TICKS.slice(0, -1).forEach(v => { const p = Math.round(y.getPixelForValue(v)); ctx.moveTo(a.left, p); ctx.lineTo(a.right, p); });
    ctx.stroke();
    ctx.restore();
  },
  afterDatasetsDraw(chart) {
    const {ctx, chartArea: a, scales: {x, y}} = chart;
    const o = chart.options.plugins.deco;
    ctx.save();
    ctx.strokeStyle = '#000'; ctx.lineWidth = 1.6;
    ctx.strokeRect(a.left, a.top, a.right - a.left, a.bottom - a.top);
    ctx.lineWidth = 1.3; ctx.beginPath();
    mids(o.xTicks).forEach(v => { const p = Math.round(x.getPixelForValue(v)) + 0.5; ctx.moveTo(p, a.bottom); ctx.lineTo(p, a.bottom + 4); });
    mids(Y_TICKS).concat([Y_RANGE[0]]).forEach(v => { const p = Math.round(y.getPixelForValue(v)) + 0.5; ctx.moveTo(a.left, p); ctx.lineTo(a.left - 4, p); });
    ctx.stroke();
    o.boxes.forEach(b => {
      const L = x.getPixelForValue(b.x[0]), R = x.getPixelForValue(b.x[1]);
      const T = y.getPixelForValue(b.y[0]), B = y.getPixelForValue(b.y[1]);
      const w = R - L, h = B - T, cx = (L + R) / 2, cy = (T + B) / 2;
      if (b.kind === 'r') { ctx.fillStyle = '#000'; ctx.fillRect(L + 6, T + 6, w, h); }
      ctx.fillStyle = '#fff'; ctx.fillRect(L, T, w, h);
      ctx.strokeStyle = '#000'; ctx.lineWidth = b.kind === 'p' ? 2.4 : 2;
      ctx.strokeRect(L, T, w, h);
      ctx.fillStyle = '#000'; ctx.textBaseline = 'alphabetic'; ctx.textAlign = 'left';
      if (b.kind === 'r') {
        ctx.font = '24px ' + SERIF; ctx.textAlign = 'center';
        ctx.fillText(b.text, cx, cy + 8.5);
      } else {
        const big = b.kind === 'p' ? 30 : 18, small = b.kind === 'p' ? 20 : 11;
        const base = b.kind === 'p' ? 8 : 6.5, subOff = b.kind === 'p' ? 8 : 4;
        let tot = 0;
        b.parts.forEach(([t, s]) => { ctx.font = (s ? small : big) + 'px ' + SANS; tot += ctx.measureText(t).width; });
        let px = cx - tot / 2;
        b.parts.forEach(([t, s]) => {
          ctx.font = (s ? small : big) + 'px ' + SANS;
          ctx.fillText(t, px, cy + base + (s ? subOff : 0));
          px += ctx.measureText(t).width;
        });
      }
    });
    ctx.fillStyle = '#000'; ctx.textAlign = 'center'; ctx.textBaseline = 'middle';
    ctx.font = '18px ' + SANS;
    ctx.fillText(X_TITLE, (a.left + a.right) / 2, a.bottom + 51);
    ctx.translate(a.left - 55, (a.top + a.bottom) / 2 - 11);
    ctx.rotate(-Math.PI / 2);
    ctx.font = '17px ' + SANS;
    ctx.fillText(Y_TITLE, 0, 0);
    ctx.restore();
  }
};

const wrap = document.getElementById('wrap');
PANELS.forEach(P => {
  const cv = document.createElement('canvas');
  const W = COL_W[P.col], H = ROW_H[P.row];
  cv.width = W; cv.height = H;
  cv.style.left = COL_LEFT[P.col] + 'px'; cv.style.top = ROW_TOP[P.row] + 'px';
  cv.style.width = W + 'px'; cv.style.height = H + 'px';
  wrap.appendChild(cv);
  const N = P.series.length;
  const datasets = P.series.map(([c, d, w], i) => ({
    data: xy(d), borderColor: C[c], backgroundColor: C[c], borderWidth: w,
    pointRadius: 0, tension: 0, fill: false, order: N - i,
    borderJoinStyle: 'round', borderCapStyle: 'round'
  }));
  const xt = P.xTicks;
  new Chart(cv, {
    type: 'line',
    data: { datasets },
    plugins: [decoPlugin],
    options: {
      responsive: false, animation: false, events: [], devicePixelRatio: 1,
      layout: { padding: { left: 0, right: PAD_R[P.col], top: PAD_TOP[P.row], bottom: PAD_BOT[P.row] } },
      plugins: { legend: { display: false }, tooltip: { enabled: false }, title: { display: false },
        deco: { xTicks: xt, boxes: P.boxes } },
      scales: {
        x: {
          type: 'linear', min: xt[0], max: xt[xt.length - 1],
          afterBuildTicks: s => { s.ticks = xt.map(v => ({ value: v })); },
          afterFit: s => { s.height = XAXIS_H; },
          grid: { drawOnChartArea: false, drawTicks: true, tickLength: 7, tickWidth: 1.5, tickColor: '#000' },
          border: { display: true, color: '#000', width: 1.6 },
          ticks: { color: '#000', font: { family: SANS, size: 15 }, padding: 3, maxRotation: 0, autoSkip: false,
            callback: v => Number(v).toFixed(1).replace('.', ',') }
        },
        y: {
          type: 'linear', min: Y_RANGE[0], max: Y_RANGE[1],
          afterBuildTicks: s => { s.ticks = Y_TICKS.map(v => ({ value: v })); },
          afterFit: s => { s.width = YAXIS_W[P.col]; },
          grid: { drawOnChartArea: false, drawTicks: true, tickLength: 8, tickWidth: 1.5, tickColor: '#000' },
          border: { display: true, color: '#000', width: 1.6 },
          ticks: { color: '#000', font: { family: SANS, size: 15 }, padding: 3, autoSkip: false,
            callback: v => String(v) }
        }
      }
    }
  });
});
</script>
</body></html>
